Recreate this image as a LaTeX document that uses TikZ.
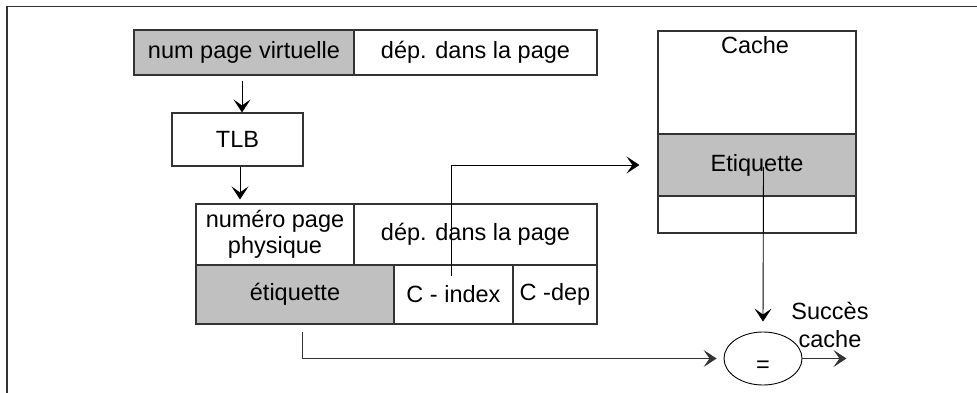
\documentclass[tikz,border=0pt]{standalone}
\usepackage{fontspec}
\setmainfont{Liberation Sans}
\usetikzlibrary{arrows.meta,shapes.geometric}
\definecolor{boxgray}{HTML}{C0C0C0}
\definecolor{edge}{HTML}{333333}
\tikzset{
  cell/.style={draw=edge,line width=1.1pt,inner sep=0pt,rectangle,anchor=center},
  shaded/.style={cell,fill=boxgray},
  arr/.style={line width=0.9pt,draw=black,-{Stealth[length=13pt,width=17pt,inset=6pt]}},
  lbl/.style={inner sep=0pt,align=center}
}
\begin{document}
\begin{tikzpicture}[x=1pt,y=-1pt,font=\fontsize{23.5}{27}\selectfont]
\useasboundingbox (0,0) rectangle (977,393);
% frame
\draw[line width=1.3pt,draw=edge] (7,393) -- (7,6.5) -- (977,6.5);
% top address
\node[shaded,minimum width=220pt,minimum height=45pt] (npv) at (244,52.5) {num page virtuelle};
\node[cell,minimum width=243pt,minimum height=45pt] (dep1) at (475.5,52.5) {dép. dans la page};
% TLB
\node[cell,minimum width=131pt,minimum height=53pt] (tlb) at (237.5,139.5) {TLB};
% physical address
\node[cell,minimum width=158pt,minimum height=61pt,align=center] (npp) at (275,234.5) {numéro page\\[-1pt]physique};
\node[cell,minimum width=243pt,minimum height=61pt] (dep2) at (475.5,234.5) {dép. dans la page};
\node[shaded,minimum width=198pt,minimum height=59pt] (etq) at (295,294.5) {étiquette};
\node[cell,minimum width=119pt,minimum height=59pt] (cidx) at (453.5,294.5) {C - index};
\node[cell,minimum width=84pt,minimum height=59pt] (cdep) at (555,294.5) {C -dep};
% cache
\node[cell,minimum width=198pt,minimum height=202pt] (cache) at (757,132) {};
\node[lbl] (cachelbl) at (755,45) {Cache};
\node[shaded,minimum width=198pt,minimum height=62pt] (cetq) at (757,165) {Etiquette};
% comparator
\node[draw=black,line width=0.9pt,ellipse,minimum width=78pt,minimum height=53pt,inner sep=0pt] (eq) at (763,358.5) {};
\node[lbl] (eqlbl) at (763,367) {=};
\node[lbl] (succ) at (830,325) {Succès\\[1pt]cache};
% connectors
\draw[arr] ([xshift=-2pt,yshift=-5pt]npv.south) -- ([xshift=4.5pt]tlb.north);
\draw[arr] ([xshift=2.5pt]tlb.south) -- ([xshift=-35pt,yshift=4pt]npp.north);
\draw[arr] ([xshift=-2.5pt,yshift=-12pt]cidx.north) |- ([xshift=-18pt]cetq.west);
\draw[arr] ([xshift=6.5pt,yshift=-2pt]cetq.center) -- ([yshift=10pt]eq.north);
\draw[arr,draw=edge] ([xshift=7pt,yshift=-7pt]etq.south) |- ([xshift=-7pt]eq.west);
\draw[arr,draw=edge] (eq.east) -- ++(44,0) coordinate (out);
\end{tikzpicture}
\end{document}
